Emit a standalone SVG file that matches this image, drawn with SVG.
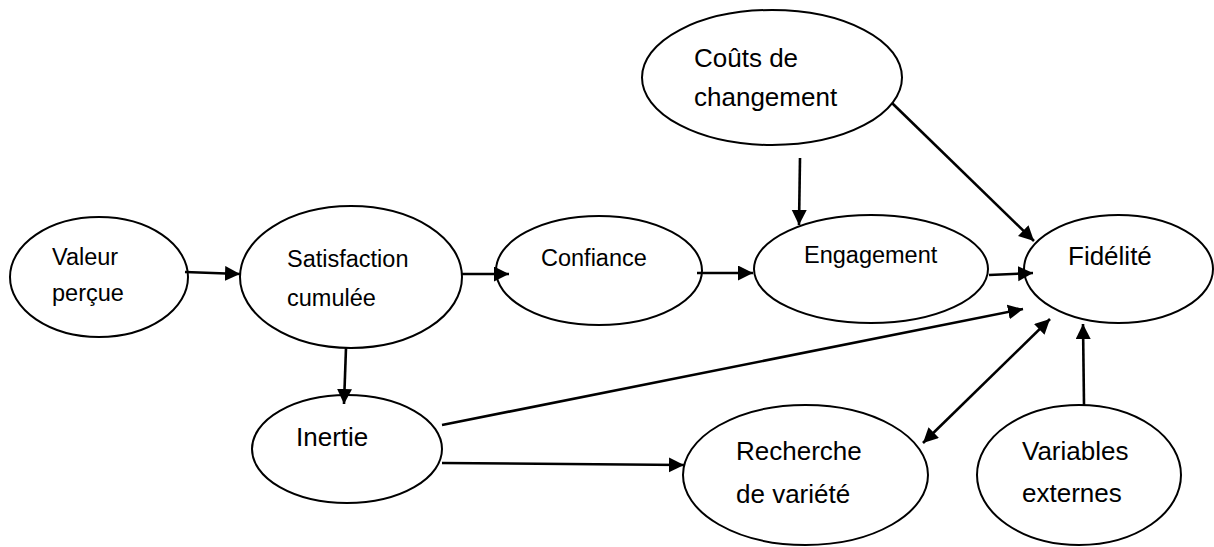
<svg xmlns="http://www.w3.org/2000/svg" width="1214" height="547" viewBox="0 0 1214 547">
  <style>
    .node ellipse { fill: #ffffff; stroke: #000000; stroke-width: 2; }
    .node text { font-family: "Liberation Sans", Arial, sans-serif; fill: #000000; }
    .sm { font-size: 23.5px; }
    .lg { font-size: 26px; }
    #connectors line { stroke: #000000; stroke-width: 2.6; fill: none; }
    .arr { marker-end: url(#head); }
    .both { marker-start: url(#head); marker-end: url(#head); }
  </style>
  <defs>
    <marker id="head" markerUnits="userSpaceOnUse" markerWidth="16" markerHeight="16"
            refX="15" refY="7.5" orient="auto-start-reverse">
      <path d="M0,0 L15,7.5 L0,15 Z" fill="#000000"/>
    </marker>
  </defs>

  <rect width="1214" height="547" fill="#ffffff"/>

  <!-- nodes -->
  <g id="valeur" class="node">
    <ellipse cx="99" cy="277" rx="89" ry="60"/>
    <text class="sm" x="52" y="265">Valeur</text>
    <text class="sm" x="52" y="301">perçue</text>
  </g>
  <g id="satisfaction" class="node">
    <ellipse cx="351" cy="277" rx="111" ry="71"/>
    <text class="sm" x="287" y="267">Satisfaction</text>
    <text class="sm" x="287" y="306">cumulée</text>
  </g>
  <g id="confiance" class="node">
    <ellipse cx="599" cy="270.5" rx="103" ry="54.5"/>
    <text class="sm" x="541" y="266">Confiance</text>
  </g>
  <g id="engagement" class="node">
    <ellipse cx="871" cy="269" rx="117" ry="54"/>
    <text class="sm" x="804" y="263">Engagement</text>
  </g>
  <g id="fidelite" class="node">
    <ellipse cx="1118.5" cy="269" rx="94.5" ry="54"/>
    <text class="lg" x="1068" y="265">Fidélité</text>
  </g>
  <g id="couts" class="node">
    <ellipse cx="772" cy="77.5" rx="130" ry="67.5"/>
    <text class="lg" x="694" y="67">Coûts de</text>
    <text class="lg" x="694" y="106">changement</text>
  </g>
  <g id="inertie" class="node">
    <ellipse cx="347" cy="449" rx="95" ry="54"/>
    <text class="lg" x="296" y="446">Inertie</text>
  </g>
  <g id="recherche" class="node">
    <ellipse cx="805.5" cy="475" rx="122.5" ry="70"/>
    <text class="lg" x="736" y="460">Recherche</text>
    <text class="lg" x="736" y="503">de variété</text>
  </g>
  <g id="variables" class="node">
    <ellipse cx="1079" cy="475" rx="102" ry="70"/>
    <text class="lg" x="1022" y="460">Variables</text>
    <text class="lg" x="1022" y="502">externes</text>
  </g>

  <!-- connectors -->
  <g id="connectors">
    <line class="arr" x1="185" y1="272" x2="240" y2="274"/>
    <line class="arr" x1="462" y1="274" x2="509" y2="274"/>
    <line class="arr" x1="697" y1="273" x2="753" y2="273"/>
    <line class="arr" x1="989" y1="275" x2="1033" y2="273"/>
    <line class="arr" x1="800" y1="158" x2="799" y2="225"/>
    <line class="arr" x1="892" y1="103" x2="1034" y2="241"/>
    <line class="arr" x1="346" y1="348" x2="344" y2="404"/>
    <line class="arr" x1="442" y1="425" x2="1023" y2="309"/>
    <line class="arr" x1="442" y1="463" x2="684" y2="465"/>
    <line class="both" x1="923" y1="443" x2="1050" y2="319"/>
    <line class="arr" x1="1084" y1="405" x2="1083" y2="324"/>
  </g>
</svg>
